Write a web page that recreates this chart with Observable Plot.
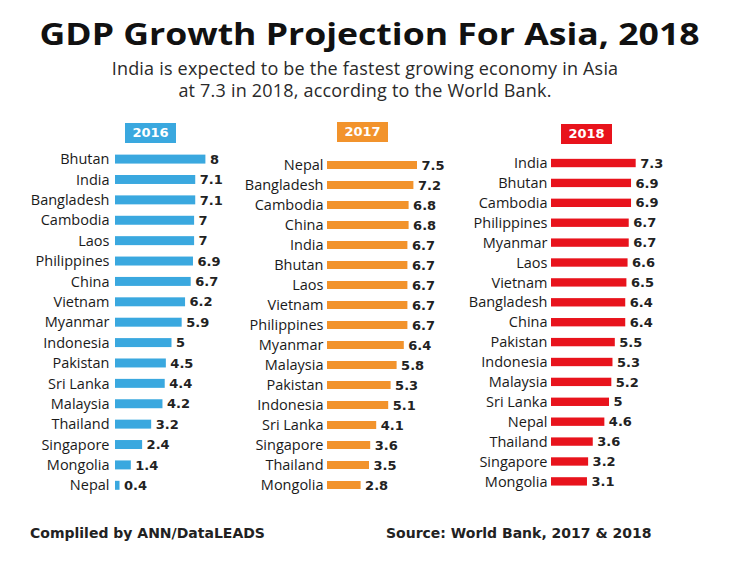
<!DOCTYPE html>
<html>
<head>
<meta charset="utf-8">
<script src="https://cdn.jsdelivr.net/npm/d3@7"></script>
<script src="https://cdn.jsdelivr.net/npm/@observablehq/plot@0.6"></script>
<style>
  html, body { margin: 0; padding: 0; background: #fff; }
  #root { position: relative; width: 740px; height: 564px; overflow: hidden; background: #fff; }
  .title { position: absolute; left: 0; top: 12px; width: 740px; text-align: center;
           font-family: "Open Sans", sans-serif; font-weight: 700; font-size: 31px; color: #111; white-space: nowrap; }
  .title span { display: inline-block; transform-origin: center; }
  .sub { position: absolute; left: 65px; width: 600px; text-align: center; top: 57px;
         font-family: "Open Sans", sans-serif; font-size: 18px; letter-spacing: 0.2px; line-height: 22px; color: #2a2a2a; }
  .badge { position: absolute; height: 20px; width: 51px; color: #fff; text-align: center;
           font-family: "DejaVu Sans", sans-serif; font-weight: 700; font-size: 13px; line-height: 20px; }
  .panel { position: absolute; top: 110px; }
  .panel svg { background: transparent !important; overflow: visible; }
  .foot { position: absolute; top: 525px; font-family: "DejaVu Sans", sans-serif; font-weight: 700;
          font-size: 14px; color: #222; white-space: nowrap; }
</style>
</head>
<body>
<div id="root">
  <div class="title"><span id="t">GDP Growth Projection For Asia, 2018</span></div>
  <div class="sub">India is expected to be the fastest growing economy in Asia<br>at 7.3 in 2018, according to the World Bank.</div>
  <div class="foot" style="left:30px">Compliled by ANN/DataLEADS</div>
  <div class="foot" style="left:386px">Source: World Bank, 2017 &amp; 2018</div>
</div>
<script>
const years = ["2016", "2017", "2018"];
const colors = ["#3aa8df", "#f2932c", "#e8131c"];

const countries2016 = ["Bhutan","India","Bangladesh","Cambodia","Laos","Philippines","China","Vietnam","Myanmar","Indonesia","Pakistan","Sri Lanka","Malaysia","Thailand","Singapore","Mongolia","Nepal"];
const values2016 = [8, 7.1, 7.1, 7, 7, 6.9, 6.7, 6.2, 5.9, 5, 4.5, 4.4, 4.2, 3.2, 2.4, 1.4, 0.4];

const countries2017 = ["Nepal","Bangladesh","Cambodia","China","India","Bhutan","Laos","Vietnam","Philippines","Myanmar","Malaysia","Pakistan","Indonesia","Sri Lanka","Singapore","Thailand","Mongolia"];
const values2017 = [7.5, 7.2, 6.8, 6.8, 6.7, 6.7, 6.7, 6.7, 6.7, 6.4, 5.8, 5.3, 5.1, 4.1, 3.6, 3.5, 2.8];

const countries2018 = ["India","Bhutan","Cambodia","Philippines","Myanmar","Laos","Vietnam","Bangladesh","China","Pakistan","Indonesia","Malaysia","Sri Lanka","Nepal","Thailand","Singapore","Mongolia"];
const values2018 = [7.3, 6.9, 6.9, 6.7, 6.7, 6.6, 6.5, 6.4, 6.4, 5.5, 5.3, 5.2, 5, 4.6, 3.6, 3.2, 3.1];

const panels = [
  {countries: countries2016, values: values2016, left: 0,   width: 225, mL: 115, mR: 19.6, mT: 33.2, mB: 8.8, pad: 0.56, tp: 6,
   badge: {left: 125, top: 123}},
  {countries: countries2017, values: values2017, left: 225, width: 230, mL: 102, mR: 32,   mT: 39,   mB: 9,   pad: 0.6,  tp: 4,
   badge: {left: 337, top: 122}},
  {countries: countries2018, values: values2018, left: 455, width: 285, mL: 96,  mR: 96.2, mT: 37.3, mB: 12.9, pad: 0.58, tp: 4,
   badge: {left: 561, top: 123.5}}
];

const root = document.getElementById("root");

panels.forEach((p, i) => {
  const data = p.countries.map((c, j) => ({country: c, value: p.values[j]}));
  const chart = Plot.plot({
    width: p.width,
    height: 400,
    marginLeft: p.mL,
    marginRight: p.mR,
    marginTop: p.mT,
    marginBottom: p.mB,
    style: {background: "transparent", overflow: "visible"},
    x: {domain: [0, 8], axis: null},
    y: {domain: p.countries, padding: p.pad, round: false, axis: null},
    marks: [
      Plot.barX(data, {x: "value", y: "country", fill: colors[i]}),
      Plot.axisY({tickSize: 0, tickPadding: p.tp, fontSize: 14.5, fontFamily: "Open Sans, sans-serif",
                  fill: "#1a1a1a", label: null}),
      Plot.text(data, {x: "value", y: "country", text: d => String(d.value), textAnchor: "start", dx: 4,
                       fontSize: 13, fontWeight: "bold", fontFamily: "DejaVu Sans, sans-serif", fill: "#222"})
    ]
  });
  const wrap = document.createElement("div");
  wrap.className = "panel";
  wrap.style.left = p.left + "px";
  wrap.appendChild(chart);
  root.appendChild(wrap);

  const b = document.createElement("div");
  b.className = "badge";
  b.style.left = p.badge.left + "px";
  b.style.top = p.badge.top + "px";
  b.style.background = colors[i];
  b.textContent = years[i];
  root.appendChild(b);
});

// fit title width to the reference span (~660px)
const t = document.getElementById("t");
const w = t.getBoundingClientRect().width;
if (w > 0) t.style.transform = "scaleX(" + (660 / w) + ")";
</script>
</body>
</html>
